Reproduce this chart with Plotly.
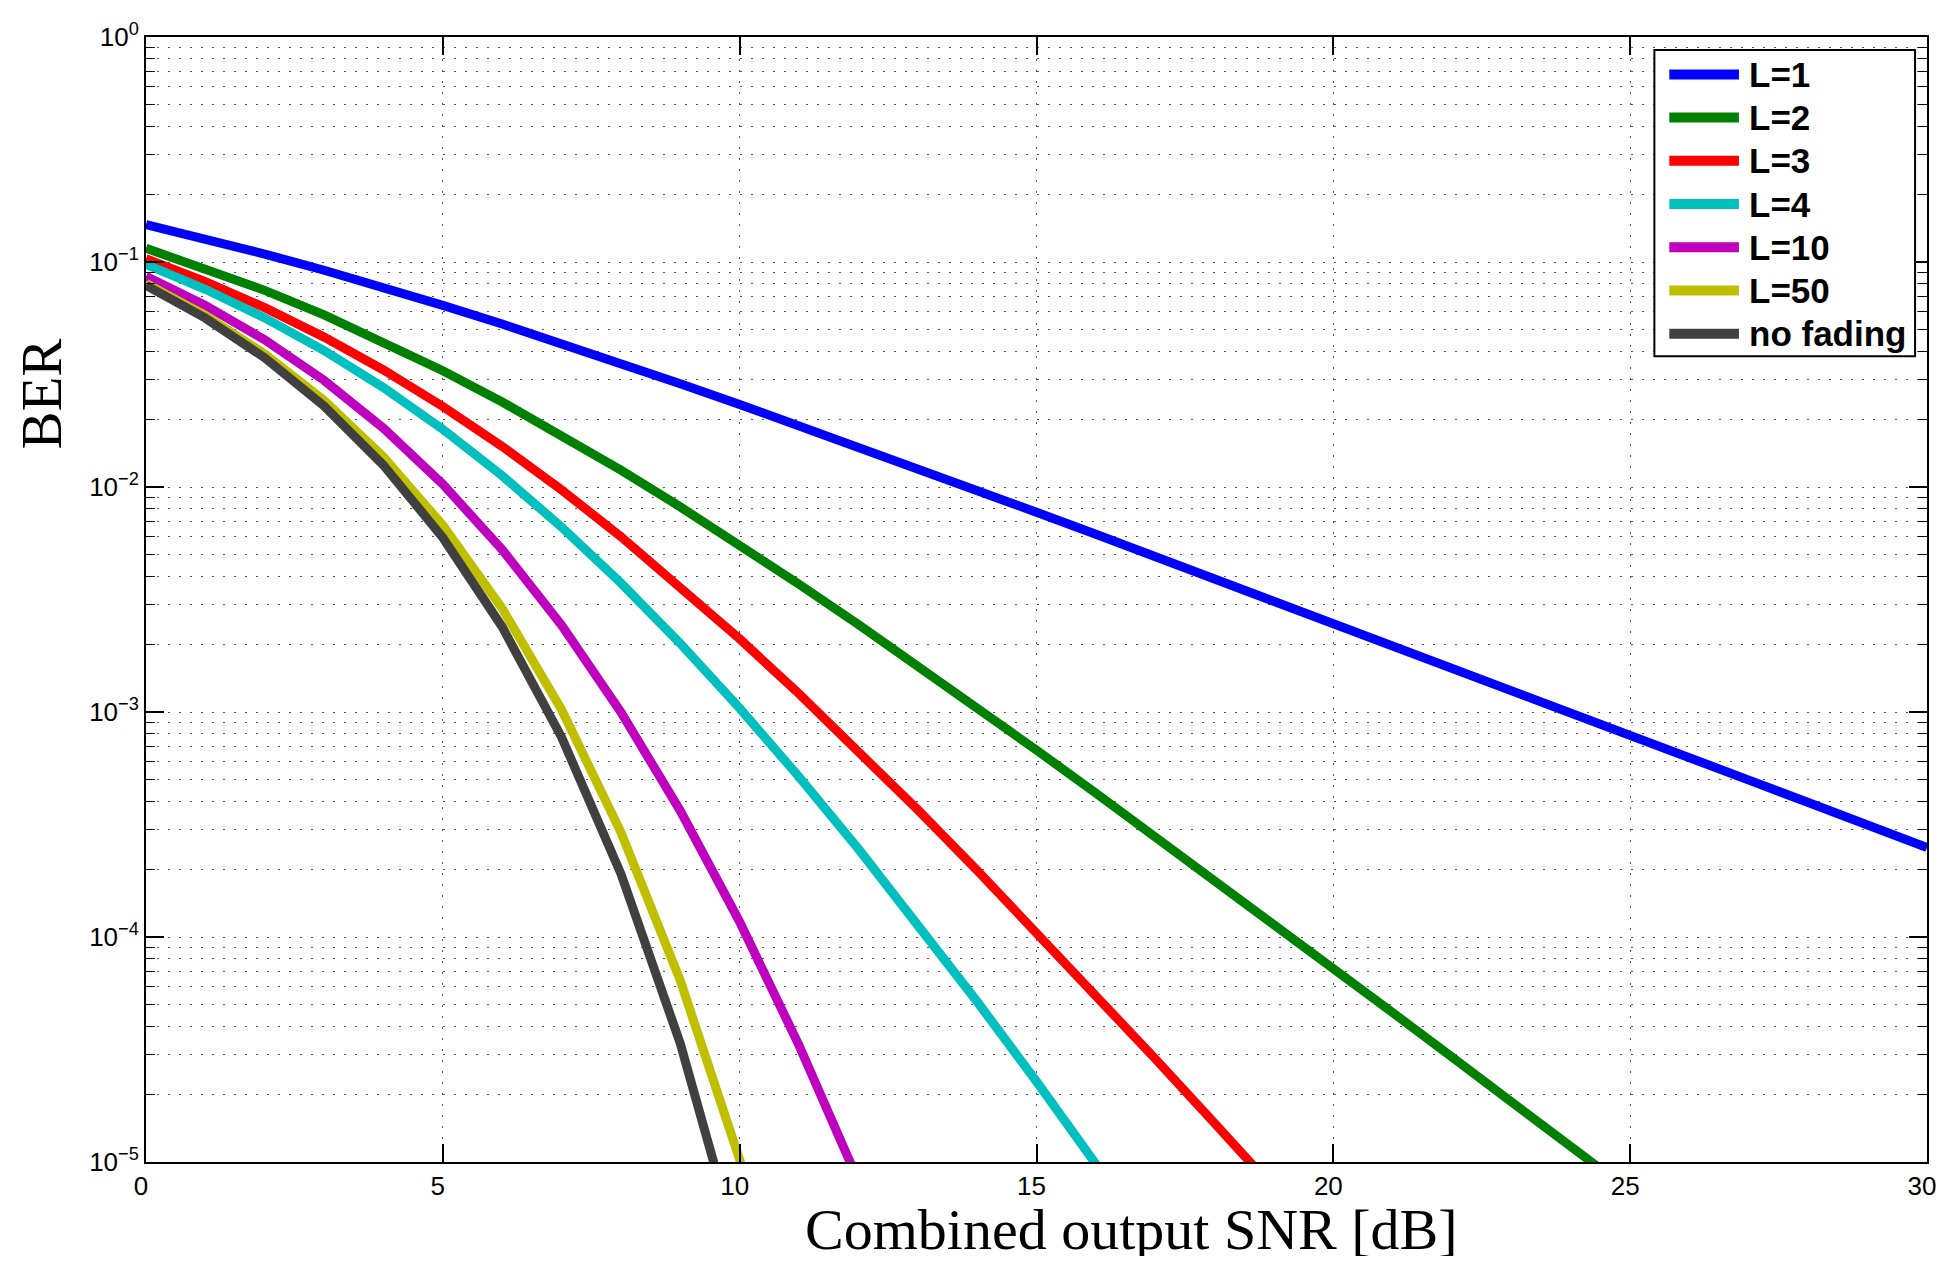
import plotly.graph_objects as go

# Combined output SNR [dB]
snr_db = list(range(0, 31))

# BER values read for each curve (one value per integer dB, until the curve leaves the plot)
ber_L1 = [0.14645, 0.12673, 0.10849, 0.09191, 0.07714, 0.06418, 0.05300, 0.04348,
          0.03546, 0.02878, 0.02327, 0.018748, 0.015065, 0.012079, 0.009666, 0.007723,
          0.006164, 0.004915, 0.003916, 0.003118, 0.002481, 0.001974, 0.001570,
          0.001248, 0.000992, 0.000789, 0.000627, 0.000498, 0.000396, 0.000315, 0.000250]
ber_L2 = [0.11510, 0.093874, 0.074810, 0.058216, 0.044244, 0.032855, 0.023872, 0.016994,
          0.011873, 0.0081608, 0.0055283, 0.0036984, 0.0024481, 0.0016061, 0.0010459,
          6.7697e-4, 4.3598e-4, 2.7972e-4, 1.7885e-4, 1.1404e-4, 7.2565e-5, 4.6097e-5,
          2.9240e-5, 1.8528e-5, 1.1732e-5, 7.4217e-6]
ber_L3 = [0.10352, 0.081826, 0.062655, 0.046367, 0.033114, 0.022800, 0.015143, 0.0097084,
          0.0060186, 0.0036172, 0.0021138, 0.0012047, 6.7162e-4, 3.6744e-4, 1.9785e-4,
          1.0513e-4, 5.5219e-5, 2.8764e-5, 1.4866e-5, 7.6365e-6]
ber_L4 = [0.097508, 0.075614, 0.056441, 0.040406, 0.027653, 0.018048, 0.011216, 0.0066366,
          0.0037418, 0.0020144, 0.0010387, 5.1484e-4, 2.4636e-4, 1.1427e-4, 5.1613e-5,
          2.2786e-5, 9.8688e-6, 4.2067e-6]
ber_L10 = [0.086337, 0.064124, 0.045108, 0.029774, 0.018251, 0.010284, 0.0052694, 0.0024295,
           9.9879e-4, 3.6367e-4, 1.16724e-4, 3.2993e-5, 8.224e-6]
ber_L50 = [0.08020, 0.05786, 0.03903, 0.02423, 0.01361, 0.006751, 0.002882, 0.001024,
           2.921e-4, 6.398e-5, 1.025e-5, 1.138e-6]
ber_nofading = [0.078650, 0.056282, 0.037506, 0.022878, 0.012501, 0.0059539, 0.0023883,
                7.7267e-4, 1.9091e-4, 3.3627e-5, 3.8721e-6]

series_names = ["L=1", "L=2", "L=3", "L=4", "L=10", "L=50", "no fading"]
series_values = [ber_L1, ber_L2, ber_L3, ber_L4, ber_L10, ber_L50, ber_nofading]
series_colors = ["#0000FF", "#008000", "#FF0000", "#00BFBF", "#BF00BF", "#BFBF00", "#404040"]

x_tickvals = [0, 5, 10, 15, 20, 25, 30]
y_tickvals = [1e-5, 1e-4, 1e-3, 1e-2, 1e-1, 1]
y_ticktext = ["10<sup>\u22125</sup>", "10<sup>\u22124</sup>", "10<sup>\u22123</sup>",
              "10<sup>\u22122</sup>", "10<sup>\u22121</sup>", "10<sup>0</sup>"]
y_minor = [m * 10.0 ** e for e in range(-5, 0) for m in range(2, 10)]

fig = go.Figure()
for name, ys, color in zip(series_names, series_values, series_colors):
    fig.add_trace(go.Scatter(
        x=snr_db[:len(ys)], y=ys, mode="lines", name=name,
        line=dict(color=color, width=9), showlegend=False,
    ))

# page body has an 8px margin: figure sits at (8, 8); coordinates below are page pixels
OFF = 8
W, H = 1955 - 2 * OFF, 1264 - 2 * OFF
plot_l, plot_r, plot_t, plot_b = 146, 1936, 31, 1162
ml, mr, mt, mb = plot_l - OFF, W - (plot_r - OFF), plot_t - OFF, H - (plot_b - OFF)
pw, ph = W - ml - mr, H - mt - mb

def px_x(px):
    return (px - OFF - ml) / pw

def px_y(py):
    return (H - mb - (py - OFF)) / ph

grid_dash = "1.5px,9.5px"
tickfont = dict(family="Liberation Sans, Arial, sans-serif", size=26, color="black")
serif_x = dict(family="Liberation Serif, Times New Roman, serif", size=58, color="black")
serif_y = dict(family="Liberation Serif, Times New Roman, serif", size=57, color="black")
legfont = dict(family="Liberation Sans, Arial, sans-serif", size=35, color="black", weight="bold")

shapes = [dict(type="rect", xref="paper", yref="paper", layer="above",
               x0=px_x(1662), x1=px_x(1924), y0=px_y(352), y1=px_y(44),
               fillcolor="white", line=dict(color="black", width=2))]
annotations = []
for i, (name, color) in enumerate(zip(series_names, series_colors)):
    yc = 68.6 + 43.45 * i
    shapes.append(dict(type="line", xref="paper", yref="paper", layer="above",
                       x0=px_x(1677), x1=px_x(1747), y0=px_y(yc), y1=px_y(yc),
                       line=dict(color=color, width=10)))
    annotations.append(dict(text=name, xref="paper", yref="paper",
                            x=px_x(1755), y=px_y(yc), xanchor="left", yanchor="middle",
                            showarrow=False, font=legfont))

annotations += [
    dict(text="Combined output SNR [dB]", xref="paper", yref="paper",
         x=px_x(1136), y=px_y(1230), xanchor="center", yanchor="middle",
         showarrow=False, font=serif_x),
    dict(text="BER", xref="paper", yref="paper", textangle=-90,
         x=px_x(41), y=px_y(390), xanchor="center", yanchor="middle",
         showarrow=False, font=serif_y),
]

fig.update_layout(
    width=W, height=H,
    margin=dict(l=ml, r=mr, t=mt, b=mb),
    paper_bgcolor="white", plot_bgcolor="white",
    showlegend=False,
    xaxis=dict(
        range=[0, 30], tickmode="array", tickvals=x_tickvals,
        ticks="inside", ticklen=18, tickwidth=1.5, tickcolor="black",
        showline=True, linecolor="black", linewidth=2, mirror="ticks",
        showgrid=True, gridcolor="#555555", gridwidth=1.3, griddash=grid_dash,
        zeroline=False, tickfont=tickfont, ticklabelshift=-5,
    ),
    yaxis=dict(
        type="log", range=[-5, 0], tickmode="array", tickvals=y_tickvals, ticktext=y_ticktext,
        ticks="inside", ticklen=18, tickwidth=1.5, tickcolor="black",
        showline=True, linecolor="black", linewidth=2, mirror="ticks",
        showgrid=True, gridcolor="#555555", gridwidth=1.3, griddash=grid_dash,
        zeroline=False, tickfont=tickfont,
        minor=dict(tickmode="array", tickvals=y_minor, ticks="inside", ticklen=9,
                   tickwidth=1.2, tickcolor="black", showgrid=True,
                   gridcolor="#555555", gridwidth=1.3, griddash=grid_dash),
    ),
    shapes=shapes,
    annotations=annotations,
)

fig.write_html("out.html")
